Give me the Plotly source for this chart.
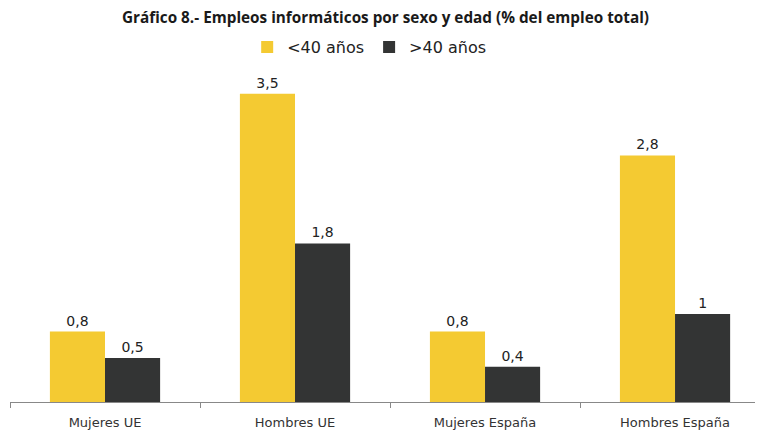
import plotly.graph_objects as go

categorias = ["Mujeres UE", "Hombres UE", "Mujeres España", "Hombres España"]
menores_40 = [0.8, 3.5, 0.8, 2.8]
mayores_40 = [0.5, 1.8, 0.4, 1.0]
series = ["<40 años", ">40 años"]
colores = ["#F4CA32", "#333434"]

fig = go.Figure()
for nombre, valores, color in zip(series, [menores_40, mayores_40], colores):
    fig.add_trace(go.Bar(
        x=categorias, y=valores, name=nombre,
        marker=dict(color=color, line=dict(width=0)),
        texttemplate="%{y}", textposition="outside", cliponaxis=False,
        textfont=dict(family="DejaVu Sans", size=14, color="#222222"),
    ))

# la página tiene 8 px de margen en el body, por eso 755x422
fig.update_layout(
    width=755, height=422,
    margin=dict(l=2, r=0, t=62, b=25),
    paper_bgcolor="white", plot_bgcolor="white",
    separators=",.",
    barmode="group", bargap=0.42, bargroupgap=0,
    title=dict(
        text="<b>Gráfico 8.- Empleos informáticos por sexo y edad (% del empleo total)</b>",
        x=0.5, xanchor="center", y=1 - 10 / 422, yanchor="middle",
        font=dict(family="Open Sans", size=15.3, color="#1a1a1a"),
    ),
    legend=dict(
        orientation="h", x=0.477, xanchor="center", y=1.0687, yanchor="middle",
        font=dict(family="DejaVu Sans", size=16, color="#222222"),
        itemwidth=30,
    ),
    xaxis=dict(
        range=[-0.5, 3.463], showline=True, linecolor="#888888", linewidth=1,
        ticks="outside", tickson="boundaries", ticklen=5, tickcolor="#888888",
        ticklabelstandoff=8,
        tickfont=dict(family="DejaVu Sans", size=13, color="#333333"),
        showgrid=False,
    ),
    yaxis=dict(range=[0, 3.77], visible=False, showgrid=False),
)

fig.write_html("out.html")
